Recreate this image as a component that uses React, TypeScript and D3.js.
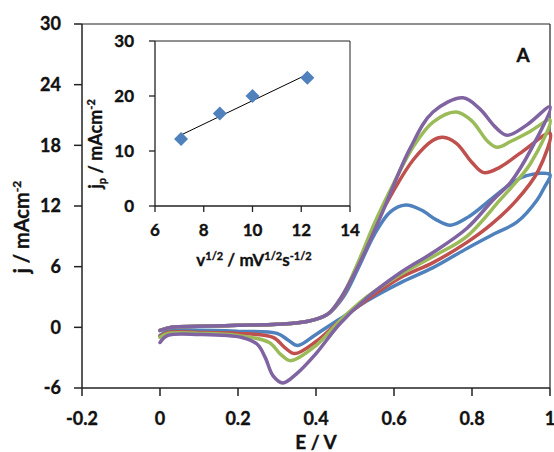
import React from 'react';
import * as d3 from 'd3';

// main CV axes
const E_TICKS = [-0.2, 0, 0.2, 0.4, 0.6, 0.8, 1];
const J_TICKS = [-6, 0, 6, 12, 18, 24, 30];

// inset axes
const V_TICKS = [6, 8, 10, 12, 14];
const JP_TICKS = [0, 10, 20, 30];

// inset data: sqrt of scan rate vs peak current
const sqrtRate = [7.07, 8.66, 10.0, 12.25];
const peakCurrent = [12.2, 16.8, 20.0, 23.3];

// voltammograms, [E, j]: forward scan then reverse
const blueCV: [number, number][] = [
  [0, -0.3], [0.03, 0.0], [0.1, 0.1], [0.2, 0.2], [0.3, 0.3], [0.38, 0.6], [0.43, 1.3], [0.47, 3.0],
  [0.51, 6.0], [0.55, 9.2], [0.59, 11.4], [0.63, 12.1], [0.67, 11.6], [0.71, 10.6], [0.745, 10.1],
  [0.79, 10.9], [0.85, 12.7], [0.9, 14.2], [0.94, 15.0], [1.0, 15.1],
  [0.985, 13.8], [0.967, 12.6], [0.915, 10.4], [0.86, 9.3], [0.787, 7.8], [0.7, 5.9], [0.616, 4.4],
  [0.53, 2.6], [0.46, 0.8], [0.4, -0.7], [0.353, -1.8], [0.33, -1.3], [0.3, -0.6], [0.2, -0.4],
  [0.1, -0.3], [0.02, -0.4], [0, -0.8],
];
const redCV: [number, number][] = [
  [0, -0.3], [0.03, 0.0], [0.1, 0.1], [0.2, 0.2], [0.3, 0.3], [0.38, 0.6], [0.43, 1.3], [0.47, 3.2],
  [0.51, 6.5], [0.55, 10.0], [0.6, 13.6], [0.65, 16.6], [0.7, 18.5], [0.725, 18.8], [0.76, 18.2],
  [0.8, 16.3], [0.83, 15.3], [0.87, 15.8], [0.93, 17.4], [1.0, 19.2],
  [0.97, 15.5], [0.915, 12.6], [0.85, 10.2], [0.787, 8.4], [0.7, 6.4], [0.616, 4.9], [0.53, 2.7],
  [0.46, 0.6], [0.4, -1.4], [0.345, -2.6], [0.32, -2.0], [0.29, -1.0], [0.2, -0.6], [0.1, -0.5],
  [0.02, -0.5], [0, -0.9],
];
const greenCV: [number, number][] = [
  [0, -0.3], [0.03, 0.0], [0.1, 0.1], [0.2, 0.2], [0.3, 0.3], [0.38, 0.6], [0.43, 1.3], [0.47, 3.3],
  [0.51, 6.6], [0.55, 10.3], [0.6, 14.3], [0.65, 17.9], [0.7, 20.3], [0.76, 21.3], [0.8, 20.4],
  [0.84, 18.4], [0.865, 17.8], [0.9, 18.4], [0.95, 19.4], [1.0, 20.5],
  [0.95, 16.2], [0.9, 13.8], [0.872, 12.6], [0.787, 9.0], [0.7, 7.0], [0.616, 5.2], [0.53, 3.0],
  [0.46, 0.6], [0.4, -1.8], [0.335, -3.3], [0.31, -2.7], [0.28, -1.5], [0.2, -0.8], [0.1, -0.6],
  [0.02, -0.6], [0, -1.0],
];
const purpleCV: [number, number][] = [
  [0, -0.3], [0.03, 0.0], [0.1, 0.1], [0.2, 0.2], [0.3, 0.3], [0.38, 0.6], [0.43, 1.3], [0.46, 2.7],
  [0.506, 5.9], [0.565, 10.9], [0.64, 17.6], [0.7, 21.3], [0.777, 22.7], [0.82, 21.6], [0.86, 19.8],
  [0.89, 19.0], [0.94, 20.0], [1.0, 21.8],
  [0.95, 17.5], [0.9, 14.4], [0.854, 12.6], [0.787, 9.8], [0.7, 7.4], [0.616, 5.4], [0.53, 2.9],
  [0.46, 0.3], [0.4, -2.6], [0.35, -4.6], [0.315, -5.5], [0.29, -4.8], [0.27, -3.0], [0.25, -1.7],
  [0.21, -1.0], [0.1, -0.7], [0.02, -0.8], [0, -1.5],
];

const curves = [
  { data: blueCV, color: '#4F81BD' },
  { data: redCV, color: '#C0504D' },
  { data: greenCV, color: '#9BBB59' },
  { data: purpleCV, color: '#8064A2' },
];

const FONT = 'Lato, "Open Sans", sans-serif';

export default function App() {
  const x = d3.scaleLinear().domain([-0.2, 1]).range([82, 550]);
  const y = d3.scaleLinear().domain([-6, 30]).range([388, 24]);

  const ix = d3.scaleLinear().domain([6, 14]).range([155, 350]);
  const iy = d3.scaleLinear().domain([0, 30]).range([206, 41]);

  const line = d3.line<[number, number]>()
    .x(d => x(d[0]))
    .y(d => y(d[1]))
    .curve(d3.curveCatmullRom.alpha(0.5));

  // least squares fit for the inset trend line
  const mx = d3.mean(sqrtRate)!;
  const my = d3.mean(peakCurrent)!;
  const slope = d3.sum(sqrtRate, (v, i) => (v - mx) * (peakCurrent[i] - my)) /
    d3.sum(sqrtRate, v => (v - mx) ** 2);
  const icpt = my - slope * mx;
  const x0 = sqrtRate[0];
  const x1 = sqrtRate[sqrtRate.length - 1];

  const diamond = d3.symbol().type(d3.symbolDiamond2).size(125)();

  return (
    <svg width={554} height={452} style={{ position: 'absolute', left: 0, top: 0 }}
      fontFamily={FONT} fontWeight={700} fill="#111" stroke="none">
      <rect width={554} height={452} fill="#fff" />

      <g stroke="#111" strokeWidth={0.35} fill="#111">
        {J_TICKS.map(t => (
          <text key={'j' + t} x={61} y={y(t)} dy="0.36em" textAnchor="end" fontSize={18}>{t}</text>
        ))}
        {E_TICKS.map(t => (
          <text key={'e' + t} x={x(t)} y={425} textAnchor="middle" fontSize={18}>{t}</text>
        ))}
        <text x={316} y={449} textAnchor="middle" fontSize={19}>E / V</text>
        <text transform="translate(29,227) rotate(-90)" textAnchor="middle" fontSize={20}>
          j / mAcm<tspan fontSize={12} dy={-8}>-2</tspan>
        </text>
        <text x={523} y={62} textAnchor="middle" fontSize={19}>A</text>

        {JP_TICKS.map(t => (
          <text key={'p' + t} x={134} y={iy(t)} dy="0.36em" textAnchor="end" fontSize={17}>{t}</text>
        ))}
        {V_TICKS.map(t => (
          <text key={'v' + t} x={ix(t)} y={236} textAnchor="middle" fontSize={17}>{t}</text>
        ))}
        <text x={254} y={266} textAnchor="middle" fontSize={17}>
          v<tspan fontSize={11} dy={-6}>1/2</tspan><tspan dy={6}> / mV</tspan>
          <tspan fontSize={11} dy={-6}>1/2</tspan><tspan dy={6}>s</tspan>
          <tspan fontSize={11} dy={-6}>-1/2</tspan>
        </text>
        <text transform="translate(102,144) rotate(-90)" textAnchor="middle" fontSize={18}>
          j<tspan fontSize={11} dy={4}>p</tspan><tspan dy={-4}> / mAcm</tspan>
          <tspan fontSize={11} dy={-7}>-2</tspan>
        </text>
      </g>

      {/* main frame */}
      <line x1={82} x2={550} y1={24} y2={24} stroke="#222" strokeWidth={1.2} />
      <line x1={550} x2={550} y1={24} y2={388} stroke="#222" strokeWidth={1.2} />
      <line x1={82} x2={82} y1={24} y2={388} stroke="#222" strokeWidth={1.5} />
      <line x1={82} x2={550} y1={388} y2={388} stroke="#222" strokeWidth={1.5} />
      {J_TICKS.map(t => (
        <line key={'jt' + t} x1={74} x2={82} y1={y(t)} y2={y(t)} stroke="#222" strokeWidth={1.5} />
      ))}
      {E_TICKS.map(t => (
        <line key={'et' + t} x1={x(t)} x2={x(t)} y1={388} y2={396} stroke="#222" strokeWidth={1.5} />
      ))}

      {/* voltammograms */}
      {curves.map(c => (
        <path key={c.color} d={line(c.data)!} fill="none" stroke={c.color} strokeWidth={3.5}
          strokeLinejoin="round" strokeLinecap="round" />
      ))}

      {/* inset */}
      <line x1={155} x2={350} y1={41} y2={41} stroke="#222" strokeWidth={1} />
      <line x1={350} x2={350} y1={41} y2={206} stroke="#222" strokeWidth={1} />
      <line x1={155} x2={155} y1={41} y2={206} stroke="#222" strokeWidth={1.3} />
      <line x1={155} x2={350} y1={206} y2={206} stroke="#222" strokeWidth={1.3} />
      {JP_TICKS.map(t => (
        <line key={'pt' + t} x1={149} x2={155} y1={iy(t)} y2={iy(t)} stroke="#222" strokeWidth={1.3} />
      ))}
      {V_TICKS.map(t => (
        <line key={'vt' + t} x1={ix(t)} x2={ix(t)} y1={206} y2={212} stroke="#222" strokeWidth={1.3} />
      ))}
      <line x1={ix(x0)} x2={ix(x1)} y1={iy(icpt + slope * x0)} y2={iy(icpt + slope * x1)}
        stroke="#000" strokeWidth={1} />
      {sqrtRate.map((v, i) => (
        <path key={'d' + i} d={diamond!} transform={`translate(${ix(v)},${iy(peakCurrent[i])})`}
          fill="#4F81BD" />
      ))}
    </svg>
  );
}
